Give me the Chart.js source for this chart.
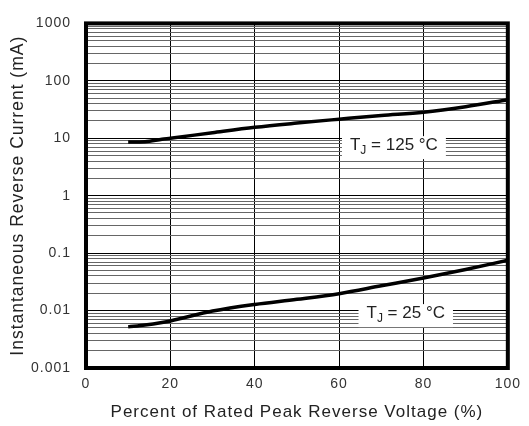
<!DOCTYPE html>
<html>
<head>
<meta charset="utf-8">
<script src="https://cdn.jsdelivr.net/npm/chart.js@4"></script>
<style>body{margin:0;background:#fff}</style>
</head>
<body>
<canvas id="myChart" width="529" height="426"></canvas>
<script>
// percent of rated peak reverse voltage
const voltagePct = [10, 14, 18, 20, 30, 40, 50, 60, 70, 80, 90, 100];
// instantaneous reverse current (mA)
const current125 = [8.6, 8.7, 9.6, 10.0, 12.5, 15.5, 18.4, 21.5, 25, 28.5, 35.5, 47];
const current25 = [0.0052, 0.0056, 0.0062, 0.0066, 0.0098, 0.0128, 0.0157, 0.0197, 0.027, 0.037, 0.052, 0.075];

const xTicks = [0, 20, 40, 60, 80, 100];
const xTickLabels = ['0', '20', '40', '60', '80', '100'];
const yTicks = [0.001, 0.01, 0.1, 1, 10, 100, 1000];
const yTickLabels = ['0.001', '0.01', '0.1', '1', '10', '100', '1000'];

const curveNames = ['125 °C', '25 °C'];
// where the TJ labels sit (in data units)
const labelAt = [{x: 73, y: 7.9}, {x: 75.8, y: 0.0094}];

const FONT = '"Liberation Sans", Arial, sans-serif';
Chart.defaults.font.family = FONT;

function findIndex(arr, v) {
  for (let i = 0; i < arr.length; i++) {
    if (Math.abs(arr[i] - v) <= Math.abs(arr[i]) * 1e-6 + 1e-12) return i;
  }
  return -1;
}

// letter spacing for the axis texts
const spacing = {
  id: 'spacing',
  beforeUpdate(chart) { chart.ctx.letterSpacing = '1px'; },
  beforeDraw(chart) { chart.ctx.letterSpacing = '1px'; }
};

const labels = {
  id: 'curveLabels',
  afterDatasetsDraw(chart) {
    const ctx = chart.ctx, xs = chart.scales.x, ys = chart.scales.y;
    curveNames.forEach(function(name, i) {
      const cx = xs.getPixelForValue(labelAt[i].x);
      const cy = ys.getPixelForValue(labelAt[i].y);
      const big = '17px ' + FONT, small = '12px ' + FONT;
      const rest = ' = ' + name;
      ctx.save();
      ctx.letterSpacing = '0px';
      ctx.font = big;
      const wT = ctx.measureText('T').width;
      const wR = ctx.measureText(rest).width;
      ctx.font = small;
      const wJ = ctx.measureText('J').width;
      const w = wT + wJ + wR;
      ctx.fillStyle = '#fff';
      ctx.fillRect(cx - w / 2 - 8, cy - 8, w + 16, 23);
      ctx.fillStyle = '#222';
      ctx.textBaseline = 'alphabetic';
      let x = cx - w / 2;
      const base = cy + 6;
      ctx.font = big; ctx.fillText('T', x, base); x += wT;
      ctx.font = small; ctx.fillText('J', x, base + 4); x += wJ;
      ctx.font = big; ctx.fillText(rest, x, base);
      ctx.restore();
    });
  },
  afterDraw(chart) {
    const a = chart.chartArea, ctx = chart.ctx;
    ctx.save();
    ctx.lineWidth = 4;
    ctx.strokeStyle = '#000';
    ctx.strokeRect(a.left, a.top, a.right - a.left, a.bottom - a.top);
    ctx.restore();
  }
};

var ctx = document.getElementById('myChart').getContext('2d');
var chart = new Chart(ctx, {
  type: 'line',
  data: {
    datasets: [{
      label: 'TJ = 125 °C',
      data: voltagePct.map(function(v, i) { return {x: v, y: current125[i]}; }),
      borderColor: '#000',
      borderWidth: 3.5,
      pointRadius: 0,
      cubicInterpolationMode: 'monotone'
    }, {
      label: 'TJ = 25 °C',
      data: voltagePct.map(function(v, i) { return {x: v, y: current25[i]}; }),
      borderColor: '#000',
      borderWidth: 3.5,
      pointRadius: 0,
      cubicInterpolationMode: 'monotone'
    }]
  },
  options: {
    responsive: false,
    devicePixelRatio: 1,
    animation: false,
    layout: {padding: {top: 17, right: 13, left: 0, bottom: 0}},
    plugins: {legend: {display: false}, tooltip: {enabled: false}},
    scales: {
      x: {
        type: 'linear',
        min: 0, max: 100,
        afterBuildTicks: function(s) { s.ticks = xTicks.map(function(v) { return {value: v}; }); },
        afterFit: function(s) { s.height = 58; },
        ticks: {
          autoSkip: false,
          maxRotation: 0,
          padding: 8,
          color: '#333',
          font: {size: 14},
          callback: function(v) { const i = findIndex(xTicks, v); return i >= 0 ? xTickLabels[i] : ''; }
        },
        grid: {color: '#000', lineWidth: 1, drawTicks: false},
        border: {display: false},
        title: {display: true, text: 'Percent of Rated Peak Reverse Voltage (%)', color: '#222',
          font: {size: 17}, padding: {top: 0, bottom: 3}}
      },
      y: {
        type: 'logarithmic',
        min: 0.001, max: 1000,
        afterBuildTicks: function(s) {
          const t = [];
          for (let e = -3; e < 3; e++) {
            for (let m = 1; m < 10; m++) t.push({value: m * Math.pow(10, e)});
          }
          t.push({value: 1000});
          s.ticks = t;
        },
        afterFit: function(s) { s.width = 86; },
        ticks: {
          autoSkip: false,
          padding: 15,
          color: '#333',
          font: {size: 14},
          callback: function(v) { const i = findIndex(yTicks, v); return i >= 0 ? yTickLabels[i] : ''; }
        },
        grid: {
          drawTicks: false,
          lineWidth: 1,
          color: function(c) { return findIndex(yTicks, c.tick.value) >= 0 ? '#000' : '#666'; }
        },
        border: {display: false},
        title: {display: true, text: 'Instantaneous Reverse Current (mA)', color: '#222',
          font: {size: 17.5}, padding: {top: 8, bottom: 0}}
      }
    }
  },
  plugins: [spacing, labels]
});
</script>
</body>
</html>
